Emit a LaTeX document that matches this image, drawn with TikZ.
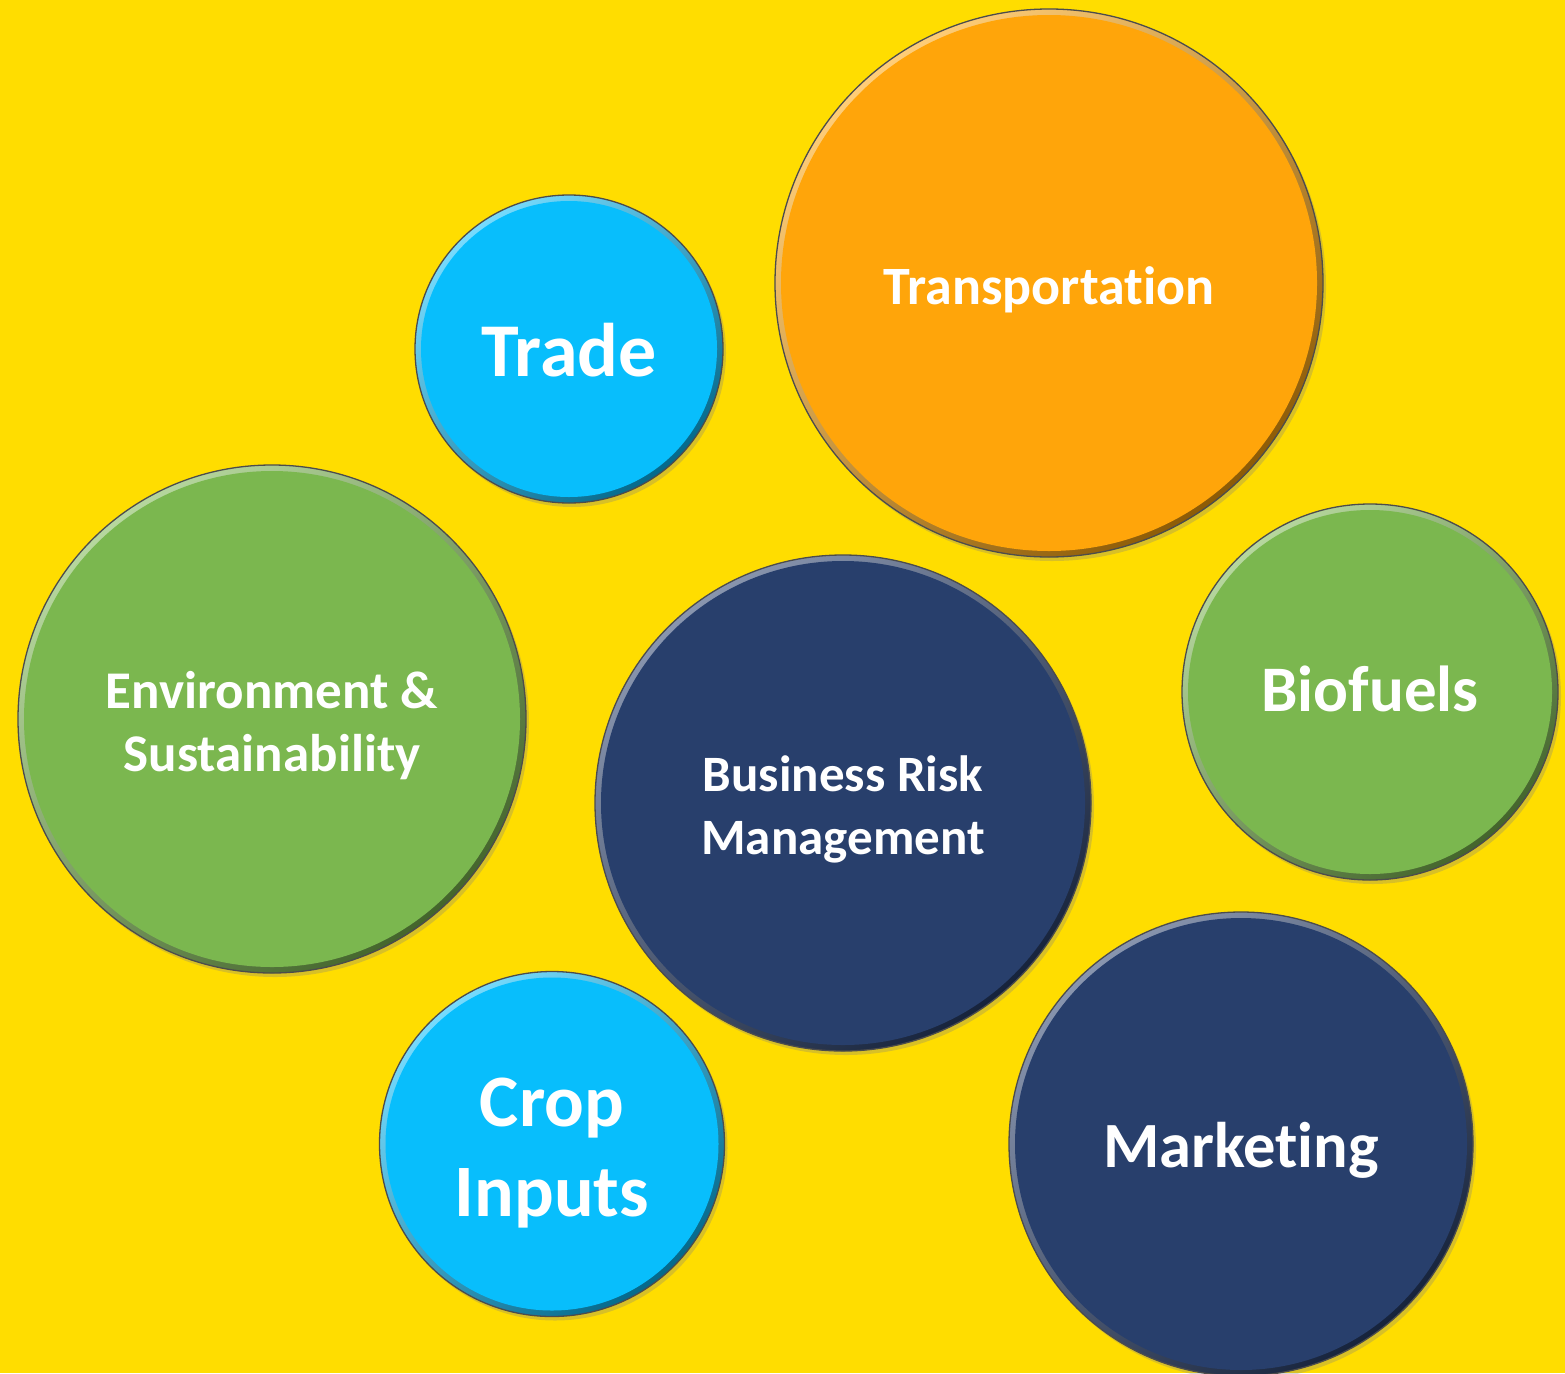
\documentclass[tikz,border=0pt]{standalone}
\usepackage{fontspec}
\setmainfont{Carlito}[Ligatures=NoCommon]
\usepackage{tikz}
\usetikzlibrary{calc,shadows}

\definecolor{bgyellow}{RGB}{255,221,0}
\definecolor{skyblue}{RGB}{8,190,252}
\definecolor{orng}{RGB}{255,165,10}
\definecolor{leaf}{RGB}{123,183,79}
\definecolor{navy}{RGB}{40,63,108}

\newcommand{\fs}[2]{\fontsize{#1}{#2}\selectfont\bfseries}
% text set a little below the centre of its bubble
\newcommand{\low}[2]{\raisebox{-#1}[\height][\depth]{\begin{tabular}{@{}c@{}}#2\end{tabular}}}

\begin{document}
\begin{tikzpicture}[x=1pt, y=-1pt,
	bubble/.style={circle, draw=black!70, line width=1.3pt, inner sep=0pt, text=white, fill=#1,
		drop shadow={shadow xshift=3pt, shadow yshift=-4pt, opacity=.3},
		path picture={
			\coordinate (pc) at (path picture bounding box.center);
			% bevel: shaded rim, flat face on top of it
			\shade[top color=#1!55!white, bottom color=#1!55!black, shading angle=40]
				(path picture bounding box.south west) rectangle (path picture bounding box.north east);
			\fill[#1] let \p1=($(path picture bounding box.east)-(pc)$) in (pc) circle[radius={\x1-6pt}];
		}}]
	\fill[bgyellow] (0,0) rectangle (1565,1373);
	\useasboundingbox (0,0) rectangle (1565,1373);

	% bubbles, sizes
	\node (trade) at (569,349) [bubble=skyblue, minimum size=308pt, font=\fs{76}{92}] {\low{9pt}{Trade}};
	\node (transport) at (1049,283) [bubble=orng, minimum size=548pt, font=\fs{54}{66}] {\low{8pt}{Transportation}};
	\node (environ) at (272,719) [bubble=leaf, minimum size=508pt, font=\fs{53}{63}] {\low{8pt}{Environment \&\\ Sustainability}};
	\node (brm) at (843,803) [bubble=navy, minimum size=496pt, font=\fs{51}{63}] {\low{7pt}{Business Risk\\ Management}};
	\node (biofuels) at (1370,692) [bubble=leaf, minimum size=376pt, font=\fs{65}{79}] {\low{4pt}{Biofuels}};
	\node (crop) at (552,1144) [bubble=skyblue, minimum size=345pt, font=\fs{74}{90}] {\low{9pt}{Crop\\ Inputs}};
	\node (marketing) at (1241,1144) [bubble=navy, minimum size=464pt, font=\fs{64.5}{78}] {\low{8pt}{Marketing}};
\end{tikzpicture}
\end{document}
